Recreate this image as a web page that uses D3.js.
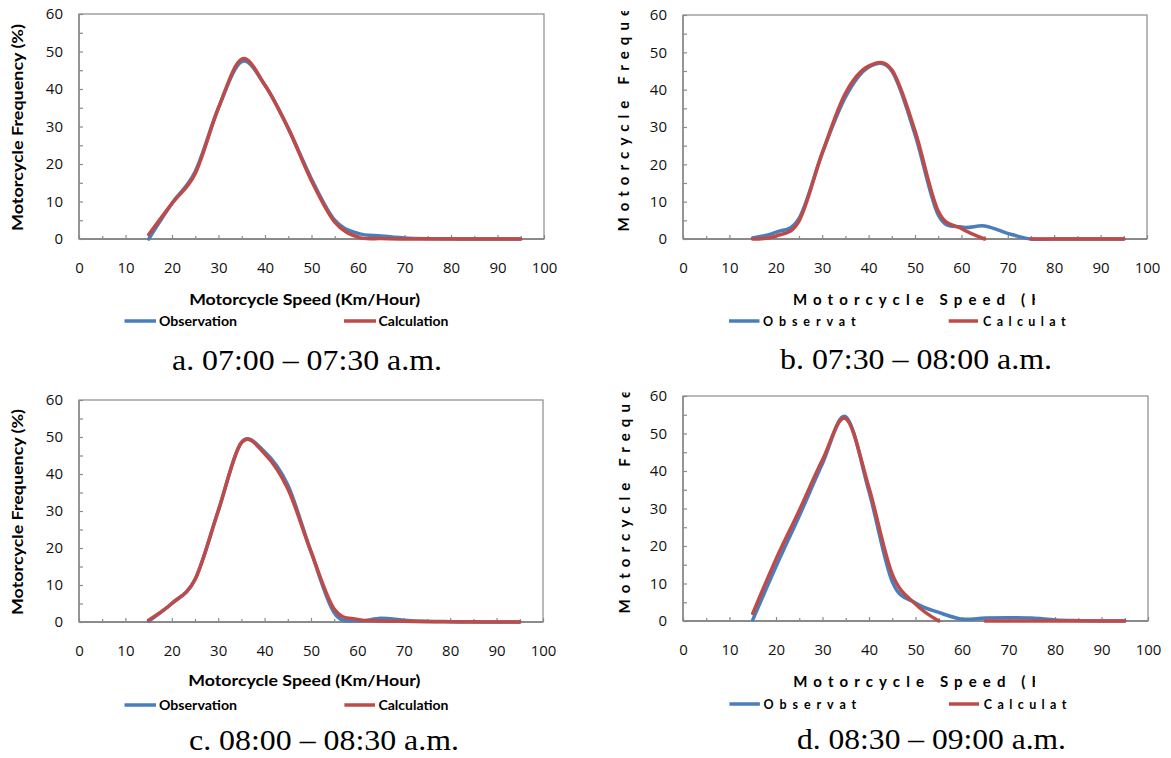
<!DOCTYPE html>
<html><head><meta charset="utf-8">
<script src="https://cdn.jsdelivr.net/npm/d3@7"></script>
<style>body{margin:0;background:#fff;} svg{display:block;}</style>
</head><body>
<svg id="chart" width="1171" height="758"></svg>
<script>
// ---------- data ----------
const speeds = [15,20,25,30,35,40,45,50,55,60,65,70,75,80,85,90,95];
const xTickValues = [0,10,20,30,40,50,60,70,80,90,100];
const yTickValues = [0,10,20,30,40,50,60];
const seriesNames = ["Observation", "Calculation"];
const xTitle = "Motorcycle Speed (Km/Hour)";
const yTitle = "Motorcycle Frequency (%)";
const captions = ["a. 07:00 – 07:30 a.m.", "b. 07:30 – 08:00 a.m.", "c. 08:00 – 08:30 a.m.", "d. 08:30 – 09:00 a.m."];

const obsA  = [0, 9.5, 18, 35, 47.3, 41, 29.5, 16, 5, 1.5, 0.8, 0.3, 0.1, 0.05, 0, 0, 0];
const calcA = [1.2, 9.5, 17.5, 35, 48, 41, 29.5, 15.5, 4.5, 0.5, 0.1, 0, 0, 0, 0, 0, 0];
const obsB  = [0.3, 1.8, 5.5, 23, 38, 46, 45, 28, 6.5, 3.2, 3.5, 1.5, 0, 0, 0, 0, 0];
const calcB = [0, 0.8, 4.8, 23, 39, 46.3, 45.3, 29, 7.5, 2.8, 0, null, 0, 0, 0, 0, 0];
const obsC  = [0.2, 5, 11.5, 30, 48.5, 46, 37, 19, 2.5, 0.3, 1.0, 0.5, 0.2, 0.1, 0.05, 0, 0];
const calcC = [0.5, 5, 11.5, 30, 48.5, 45.5, 36, 19, 3.5, 0.7, 0.3, 0.2, 0.1, 0.05, 0, 0, 0];
const obsD  = [0.3, 14.5, 28, 42, 54.5, 34.5, 10.5, 4.8, 2.3, 0.5, 0.8, 0.9, 0.8, 0.3, 0.1, 0, 0];
const calcD = [2, 16.5, 29.5, 43, 54, 35.5, 12.5, 4.5, 0, null, 0, 0, 0, 0, 0, 0, 0];

// ---------- layout ----------
const COL_OBS = "#4a7ebb", COL_CALC = "#be4b48", AXIS = "#8a8a8a";
const TITLE_FONT = "Lato, 'Open Sans', sans-serif";
const TICK_FONT = "'Open Sans', 'Liberation Sans', sans-serif";
const SERIF = "'Liberation Serif', 'DejaVu Serif', serif";

const panels = [
  {obs: obsA, calc: calcA, caption: captions[0], box: {l:79, r:544, t:14, b:239}, spaced: false,
   yT: {x:23, cy:127.5, len:207}, xT: {cx:304.7, y:304.5, len:231},
   leg: {y:321, l1:[124.5,156], t1:159, w1:78, l2:[344,376], t2:378.5, w2:70},
   cap: {cx:307, y:370, len:270}},
  {obs: obsB, calc: calcB, caption: captions[1], box: {l:683, r:1147, t:15, b:239}, spaced: true,
   yT: {x:629, y0:231.4, clipTop:11}, xT: {x0:793, y:304.5, target:228, clipRight:1035},
   leg: {y:321, l1:[729,759.5], t1:763, w1:92, clip1:857, l2:[948.7,978], t2:983, w2:82, clip2:1067},
   cap: {cx:916, y:369, len:272}},
  {obs: obsC, calc: calcC, caption: captions[2], box: {l:79, r:543, t:400, b:622}, spaced: false,
   yT: {x:23, cy:512, len:206}, xT: {cx:304.3, y:686, len:232},
   leg: {y:705, l1:[124.5,156], t1:159, w1:78, l2:[344.4,375], t2:378.4, w2:70},
   cap: {cx:324, y:750, len:270}},
  {obs: obsD, calc: calcD, caption: captions[3], box: {l:683, r:1148, t:396, b:621}, spaced: true,
   yT: {x:630, y0:613.4, clipTop:392.5}, xT: {x0:793.3, y:686.5, target:228, clipRight:1035},
   leg: {y:704, l1:[729.4,759.9], t1:763.6, w1:92, clip1:857.5, l2:[949,979], t2:983.8, w2:82, clip2:1067.5},
   cap: {cx:931.5, y:748.5, len:269}}
];

const svg = d3.select("#chart");
const defs = svg.append("defs");
let clipCount = 0;
function clipRect(x, y, w, h) {
  const id = "clip" + (clipCount++);
  defs.append("clipPath").attr("id", id).attr("clipPathUnits", "userSpaceOnUse")
    .append("rect").attr("x", x).attr("y", y).attr("width", w).attr("height", h);
  return "url(#" + id + ")";
}
// letter-spaced text: spacing chosen so that prefix of n chars spans target px
function spacing(textSel, n, target) {
  const node = textSel.node();
  const w = node.getSubStringLength(0, n);
  return (target - w) / n;
}

panels.forEach((p, i) => {
  const g = svg.append("g");
  const x = d3.scaleLinear().domain([0, 100]).range([p.box.l, p.box.r]);
  const y = d3.scaleLinear().domain([0, 60]).range([p.box.b, p.box.t]);

  // plot border
  g.append("rect").attr("x", p.box.l).attr("y", p.box.t)
    .attr("width", p.box.r - p.box.l).attr("height", p.box.b - p.box.t)
    .attr("fill", "none").attr("stroke", AXIS).attr("stroke-width", 1.2);

  // x ticks (inside), major & minor
  const xMaj = g.append("g").attr("transform", `translate(0,${p.box.b})`)
    .call(d3.axisBottom(x).tickValues(xTickValues).tickSize(-4).tickFormat(""));
  const xMin = g.append("g").attr("transform", `translate(0,${p.box.b})`)
    .call(d3.axisBottom(x).tickValues(d3.range(5, 100, 10)).tickSize(-3).tickFormat(""));
  const yMaj = g.append("g").attr("transform", `translate(${p.box.l},0)`)
    .call(d3.axisLeft(y).tickValues(yTickValues).tickSize(-4).tickFormat(""));
  const yMin = g.append("g").attr("transform", `translate(${p.box.l},0)`)
    .call(d3.axisLeft(y).tickValues(d3.range(5, 60, 10)).tickSize(-4).tickFormat(""));
  [xMaj, xMin, yMaj, yMin].forEach(a => {
    a.select(".domain").remove();
    a.selectAll("line").attr("stroke", AXIS).attr("stroke-width", 1.2);
  });

  // axis lines
  g.append("line").attr("x1", p.box.l).attr("x2", p.box.r).attr("y1", p.box.b).attr("y2", p.box.b)
    .attr("stroke", AXIS).attr("stroke-width", 2);
  g.append("line").attr("x1", p.box.l).attr("x2", p.box.l).attr("y1", p.box.t).attr("y2", p.box.b)
    .attr("stroke", AXIS).attr("stroke-width", 1.5);

  // tick labels
  const xl = g.append("g").attr("transform", `translate(0,${p.box.b})`)
    .call(d3.axisBottom(x).tickValues(xTickValues).tickSize(0).tickPadding(23.5).tickFormat(d3.format("d")));
  const yl = g.append("g").attr("transform", `translate(${p.box.l},0)`)
    .call(d3.axisLeft(y).tickValues(yTickValues).tickSize(0).tickPadding(16).tickFormat(d3.format("d")));
  [xl, yl].forEach(a => {
    a.select(".domain").remove();
    a.attr("font-family", null).attr("font-size", null);
    a.selectAll("text").attr("font-family", TICK_FONT).attr("font-size", 15).attr("fill", "#111");
  });

  // series
  const line = d3.line()
    .defined(d => d[1] !== null)
    .x(d => x(d[0])).y(d => y(d[1]))
    .curve(d3.curveCatmullRom.alpha(0));
  [[p.obs, COL_OBS], [p.calc, COL_CALC]].forEach(([vals, col]) => {
    g.append("path").datum(speeds.map((s, k) => [s, vals[k]]))
      .attr("d", line).attr("fill", "none").attr("stroke", col)
      .attr("stroke-width", 3.5).attr("stroke-linejoin", "round").attr("stroke-linecap", "round");
  });

  // legend lines
  g.append("line").attr("x1", p.leg.l1[0]).attr("x2", p.leg.l1[1]).attr("y1", p.leg.y).attr("y2", p.leg.y)
    .attr("stroke", COL_OBS).attr("stroke-width", 3.5);
  g.append("line").attr("x1", p.leg.l2[0]).attr("x2", p.leg.l2[1]).attr("y1", p.leg.y).attr("y2", p.leg.y)
    .attr("stroke", COL_CALC).attr("stroke-width", 3.5);

  if (!p.spaced) {
    g.append("text").text(xTitle).attr("x", p.xT.cx).attr("y", p.xT.y)
      .attr("text-anchor", "middle").attr("font-family", TITLE_FONT).attr("font-weight", "bold")
      .attr("font-size", 15).attr("textLength", p.xT.len).attr("lengthAdjust", "spacingAndGlyphs");
    g.append("text").text(yTitle)
      .attr("transform", `translate(${p.yT.x},${p.yT.cy}) rotate(-90)`)
      .attr("text-anchor", "middle").attr("font-family", TITLE_FONT).attr("font-weight", "bold")
      .attr("font-size", 15).attr("textLength", p.yT.len).attr("lengthAdjust", "spacingAndGlyphs");
    g.append("text").text(seriesNames[0]).attr("x", p.leg.t1).attr("y", p.leg.y + 4.5)
      .attr("font-family", TITLE_FONT).attr("font-weight", "bold").attr("font-size", 12.5)
      .attr("textLength", p.leg.w1).attr("lengthAdjust", "spacingAndGlyphs");
    g.append("text").text(seriesNames[1]).attr("x", p.leg.t2).attr("y", p.leg.y + 4.5)
      .attr("font-family", TITLE_FONT).attr("font-weight", "bold").attr("font-size", 12.5)
      .attr("textLength", p.leg.w2).attr("lengthAdjust", "spacingAndGlyphs");
  } else {
    // x title, letter-spaced and clipped
    const gx = g.append("g").attr("clip-path", clipRect(p.xT.x0 - 5, p.xT.y - 20, p.xT.clipRight - p.xT.x0 + 5, 30));
    const tx = gx.append("text").text(xTitle).attr("x", p.xT.x0).attr("y", p.xT.y)
      .attr("font-family", TITLE_FONT).attr("font-weight", "bold").attr("font-size", 15);
    const ls = spacing(tx, 17, p.xT.target);
    tx.attr("letter-spacing", ls);
    // y title, rotated, letter-spaced and clipped
    const gy = g.append("g").attr("clip-path", clipRect(p.yT.x - 25, p.yT.clipTop, 35, p.yT.y0 - p.yT.clipTop + 10));
    gy.append("text").text(yTitle)
      .attr("transform", `translate(${p.yT.x},${p.yT.y0}) rotate(-90)`)
      .attr("font-family", TITLE_FONT).attr("font-weight", "bold").attr("font-size", 15)
      .attr("letter-spacing", ls);
    // legend texts
    [[seriesNames[0], p.leg.t1, p.leg.w1, p.leg.clip1], [seriesNames[1], p.leg.t2, p.leg.w2, p.leg.clip2]]
      .forEach(([txt, x0, w, cr]) => {
        const gl = g.append("g").attr("clip-path", clipRect(x0 - 3, p.leg.y - 15, cr - x0 + 3, 25));
        const t = gl.append("text").text(txt).attr("x", x0).attr("y", p.leg.y + 4.5)
          .attr("font-family", TITLE_FONT).attr("font-weight", "bold").attr("font-size", 12.5);
        const w8 = t.node().getSubStringLength(0, 8);
        t.attr("letter-spacing", (w - w8) / 7);
      });
  }

  // caption
  g.append("text").text(p.caption).attr("x", p.cap.cx).attr("y", p.cap.y)
    .attr("text-anchor", "middle").attr("font-family", SERIF).attr("font-size", 30)
    .attr("textLength", p.cap.len).attr("lengthAdjust", "spacingAndGlyphs").attr("fill", "#000");
});
</script>
</body></html>
